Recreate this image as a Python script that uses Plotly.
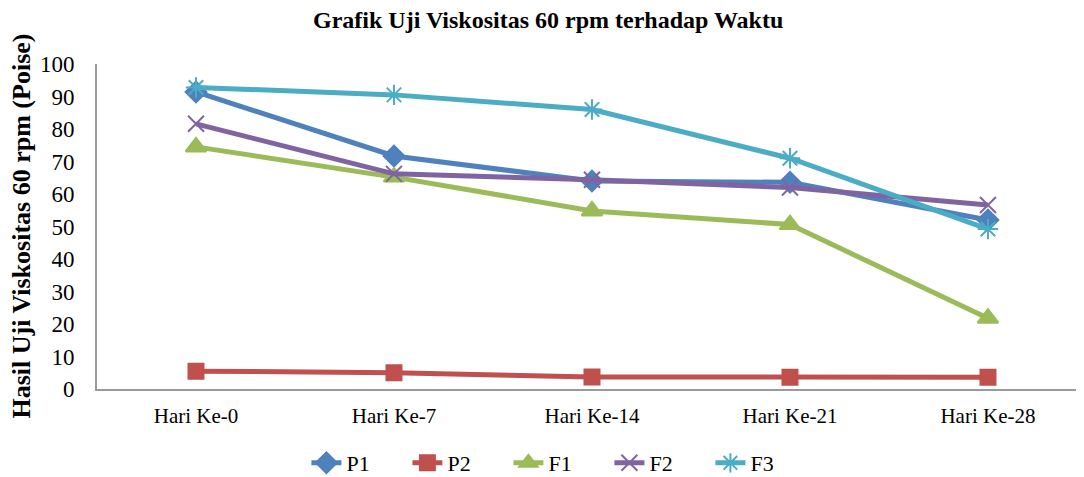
import plotly.graph_objects as go

categories = ["Hari Ke-0", "Hari Ke-7", "Hari Ke-14", "Hari Ke-21", "Hari Ke-28"]
p1 = [91.4, 71.7, 64.0, 63.6, 52.0]
p2 = [5.5, 5.0, 3.7, 3.6, 3.6]
f1 = [74.5, 65.2, 54.8, 50.6, 21.8]
f2 = [81.6, 66.2, 64.4, 62.0, 56.6]
f3 = [92.8, 90.5, 86.0, 71.0, 49.2]

series = [
    ("P1", p1, "#4F81BD", "diamond", 16),
    ("P2", p2, "#C0504D", "square", 15),
    ("F1", f1, "#9BBB59", "triangle-up", 18),
    ("F2", f2, "#8064A2", "x-thin-open", 16),
    ("F3", f3, "#4BACC6", "asterisk-open", 17),
]

FONT = "Liberation Serif, Times New Roman, serif"
W, H = 1076, 469
L, T, B = 89, 56, 88

fig = go.Figure()
for name, vals, color, sym, size in series:
    fig.add_trace(go.Scatter(
        x=list(range(len(categories))), y=vals, name=name, mode="lines+markers",
        line=dict(color=color, width=5),
        marker=dict(symbol=sym, size=size, color=color, line=dict(color=color, width=2)),
    ))

fig.update_layout(
    width=W, height=H,
    margin=dict(l=L, r=0, t=T, b=B, autoexpand=False),
    paper_bgcolor="white", plot_bgcolor="white",
    font=dict(family=FONT, color="black"),
    title=dict(text="<b>Grafik Uji Viskositas 60 rpm terhadap Waktu</b>",
               x=0.502, xref="container", xanchor="center",
               y=1 - 12 / H, yref="container", yanchor="middle",
               font=dict(size=24, family=FONT)),
    showlegend=True,
    legend=dict(orientation="h", x=0.512, xref="container", xanchor="center",
                y=1 - 455 / H, yref="container", yanchor="middle",
                font=dict(size=22, family=FONT), entrywidth=56, tracegroupgap=0),
    annotations=[dict(
        text="<b>Hasil Uji Viskositas 60 rpm (Poise)</b>", textangle=-90,
        xref="paper", yref="paper", x=(13 - L) / (W - L), y=0.5,
        xanchor="center", yanchor="middle", showarrow=False,
        font=dict(size=26, family=FONT),
    )],
)
fig.update_xaxes(
    range=[-0.5, 4.485], tickmode="array", tickvals=list(range(len(categories))),
    ticktext=categories, showgrid=False, zeroline=False, automargin=False,
    showline=True, linecolor="#9A9A9A", linewidth=2, ticks="",
    tickfont=dict(size=21, family=FONT), ticklabelstandoff=7,
)
fig.update_yaxes(
    range=[0, 100], dtick=10, showgrid=False, zeroline=False, automargin=False,
    showline=True, linecolor="#9A9A9A", linewidth=2, ticks="",
    tickfont=dict(size=23, family=FONT), ticklabelstandoff=16,
)
fig.write_html("out.html")
